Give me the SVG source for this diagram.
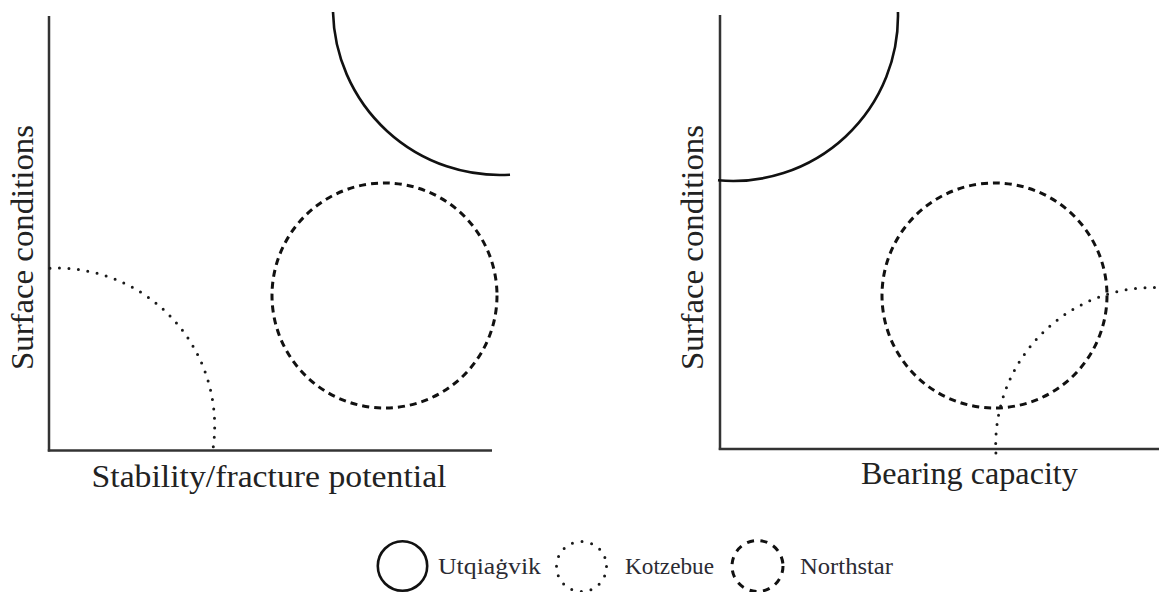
<svg xmlns="http://www.w3.org/2000/svg" width="1159" height="592" viewBox="0 0 1159 592">
  <style>
    .axis { stroke: #333; stroke-width: 2.5; fill: none; }
    .solid { stroke: #111; stroke-width: 2.6; fill: none; }
    .dashed { stroke: #111; stroke-width: 3; fill: none; stroke-dasharray: 7 5; }
    .dotted { stroke: #1a1a1a; stroke-width: 3; fill: none; stroke-dasharray: 0 9.5; stroke-linecap: round; }
    .lbl { font-family: "Liberation Serif", "Times New Roman", serif; font-size: 31px; fill: #222; }
    .leg { font-family: "Liberation Serif", "Times New Roman", serif; font-size: 23px; fill: #2b2b33; }
    .legdash { stroke: #111; stroke-width: 3; fill: none; stroke-dasharray: 7 6.6; }
    .legdot { stroke: #1a1a1a; stroke-width: 3; fill: none; stroke-dasharray: 0 9.8; stroke-linecap: round; }
  </style>

  <g id="panel-left">
    <g id="left-axes">
      <line class="axis" x1="49" y1="16" x2="49" y2="451.5"/>
      <line class="axis" x1="47.8" y1="450.5" x2="492" y2="450.5"/>
    </g>
    <g id="left-curves">
      <path id="left-utqiagvik" class="solid" d="M 333 12 A 167 167 0 0 0 510 174.7"/>
      <circle id="left-northstar" class="dashed" cx="384.5" cy="295.5" r="112.5"/>
      <path id="left-kotzebue" class="dotted" d="M 50 268.2 A 158 158 0 0 1 212.7 451"/>
    </g>
    <text class="lbl" transform="translate(33,247.5) rotate(-90)" text-anchor="middle" textLength="245" lengthAdjust="spacingAndGlyphs">Surface conditions</text>
    <text class="lbl" x="269" y="487" text-anchor="middle" textLength="355" lengthAdjust="spacingAndGlyphs">Stability/fracture potential</text>
  </g>

  <g id="panel-right">
    <g id="right-axes">
      <line class="axis" x1="720" y1="15" x2="720" y2="450"/>
      <line class="axis" x1="718.8" y1="449" x2="1159" y2="449"/>
    </g>
    <g id="right-curves">
      <path id="right-utqiagvik" class="solid" d="M 897.95 12 A 165 165 0 0 1 718 180.3"/>
      <circle id="right-northstar" class="dashed" cx="994.5" cy="295.5" r="112.5"/>
      <path id="right-kotzebue" class="dotted" d="M 995.9 453 A 157.5 157.5 0 0 1 1170 288.4"/>
    </g>
    <text class="lbl" transform="translate(703,247.5) rotate(-90)" text-anchor="middle" textLength="245" lengthAdjust="spacingAndGlyphs">Surface conditions</text>
    <text class="lbl" x="969.4" y="483.5" text-anchor="middle" textLength="217" lengthAdjust="spacingAndGlyphs">Bearing capacity</text>
  </g>

  <g id="legend">
    <g id="legend-utqiagvik">
      <circle class="solid" cx="402.5" cy="566" r="24.7"/>
      <text class="leg" x="438" y="573.5" textLength="103" lengthAdjust="spacingAndGlyphs">Utqiaġvik</text>
    </g>
    <g id="legend-kotzebue">
      <circle class="legdot" cx="581.5" cy="566.5" r="25"/>
      <text class="leg" x="625" y="573.5" textLength="89" lengthAdjust="spacingAndGlyphs">Kotzebue</text>
    </g>
    <g id="legend-northstar">
      <circle class="legdash" cx="757.5" cy="566" r="25.5"/>
      <text class="leg" x="800" y="573.5" textLength="93" lengthAdjust="spacingAndGlyphs">Northstar</text>
    </g>
  </g>
</svg>
